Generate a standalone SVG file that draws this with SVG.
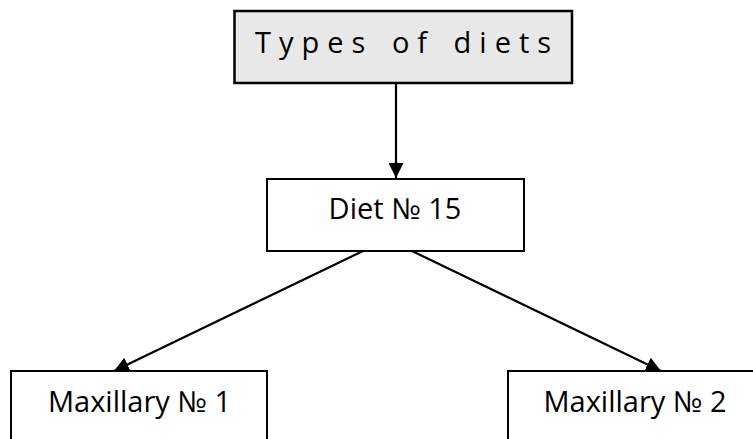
<svg xmlns="http://www.w3.org/2000/svg" width="753" height="439" viewBox="0 0 753 439">
<style>
.box{fill:#ffffff;stroke:#000000;stroke-width:2}
.top{fill:#e8e8e8;stroke:#000000;stroke-width:2.5}
.lbl{font-family:"Open Sans","Noto Sans","Liberation Sans",sans-serif;font-size:29px;fill:#000000}
.edge{stroke:#000000;stroke-width:2.2;fill:none;marker-end:url(#ah)}
</style>
<defs>
<marker id="ah" markerUnits="userSpaceOnUse" markerWidth="15" markerHeight="15" viewBox="0 0 15 15" refX="15" refY="7.5" orient="auto">
<path d="M0,0 L15,7.5 L0,15 Z" fill="#000000"/>
</marker>
</defs>
<rect width="753" height="439" fill="#ffffff"/>
<g id="connectors">
<line class="edge" x1="396" y1="83" x2="396" y2="178"/>
<line class="edge" x1="363" y1="251" x2="114" y2="371"/>
<line class="edge" x1="412" y1="251" x2="661" y2="371"/>
</g>
<g id="types">
<rect class="top" x="234.5" y="11" width="337.5" height="72"/>
<text class="lbl" x="255" y="53" style="letter-spacing:8px;word-spacing:3px">Types of diets</text>
</g>
<g id="diet15">
<rect class="box" x="267" y="179" width="257" height="72"/>
<text class="lbl" x="395" y="219" text-anchor="middle">Diet № 15</text>
</g>
<g id="max1">
<rect class="box" x="11" y="371" width="256" height="80"/>
<text class="lbl" x="139.5" y="412" text-anchor="middle">Maxillary № 1</text>
</g>
<g id="max2">
<rect class="box" x="508" y="371" width="256" height="80"/>
<text class="lbl" x="635" y="412" text-anchor="middle">Maxillary № 2</text>
</g>
</svg>
